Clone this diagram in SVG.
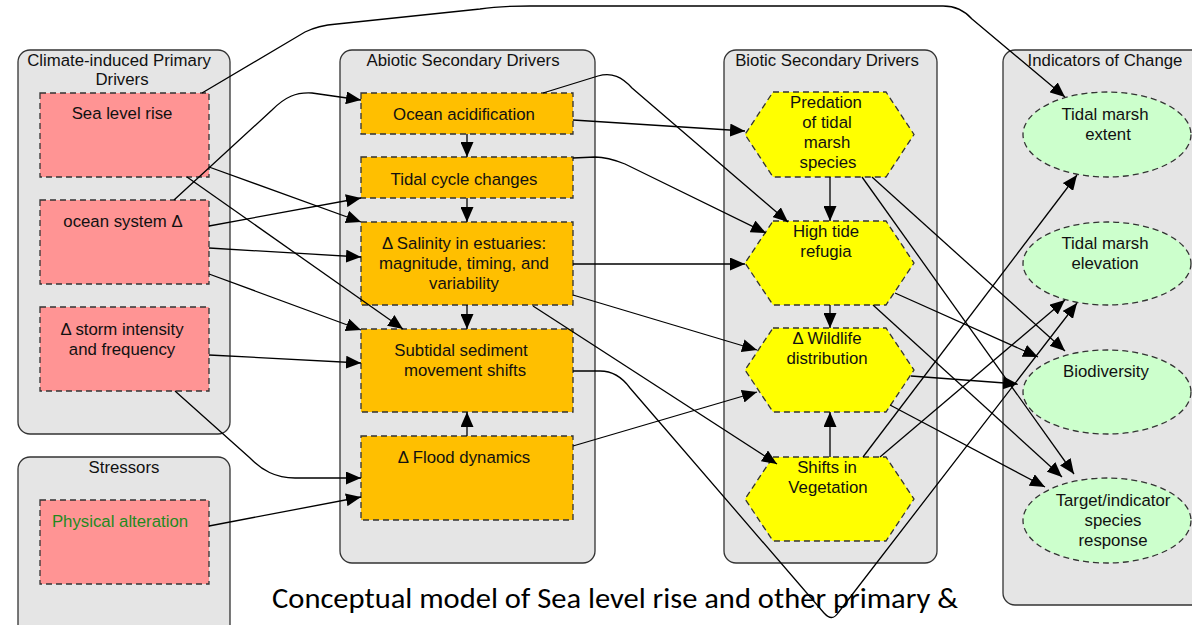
<svg xmlns="http://www.w3.org/2000/svg" width="1192" height="625" viewBox="0 0 1192 625">
<style>
.cont{fill:#e5e5e5;stroke:#333;stroke-width:1.3}
.title{font-family:"Liberation Sans",Arial,sans-serif;font-size:16.8px;fill:#111;text-anchor:middle}
.lbl{font-family:"Liberation Sans",Arial,sans-serif;font-size:16.8px;fill:#111;text-anchor:middle}
.pink{fill:#ff9494;stroke:#333;stroke-width:1.3;stroke-dasharray:6,4}
.orange{fill:#ffbf00;stroke:#333;stroke-width:1.3;stroke-dasharray:6,4}
.yellow{fill:#ffff00;stroke:#333;stroke-width:1.3;stroke-dasharray:6,4}
.green{fill:#ccffcc;stroke:#333;stroke-width:1.3;stroke-dasharray:6,4}
.edge{fill:none;stroke:#000;stroke-width:1.3;marker-end:url(#arr)}
</style>
<defs>
<marker id="arr" viewBox="0 0 15 13" refX="15" refY="6.5" markerWidth="15" markerHeight="13" orient="auto" markerUnits="userSpaceOnUse">
<path d="M0,0 L15,6.5 L0,13 z" fill="#000"/>
</marker>
</defs>
<rect width="1192" height="625" fill="#fff"/>

<g id="containers">
<g id="grp-climate"><rect class="cont" x="18" y="50" width="212" height="384" rx="12"/>
<text class="title" x="119" y="66">Climate-induced Primary</text><text class="title" x="122" y="85">Drivers</text></g>
<g id="grp-stressors"><rect class="cont" x="18" y="457" width="212" height="180" rx="12"/>
<text class="title" x="124" y="473">Stressors</text></g>
<g id="grp-abiotic"><rect class="cont" x="340" y="50" width="255" height="513" rx="12"/>
<text class="title" x="463" y="66">Abiotic Secondary Drivers</text></g>
<g id="grp-biotic"><rect class="cont" x="724" y="50" width="213" height="513" rx="12"/>
<text class="title" x="827" y="66">Biotic Secondary Drivers</text></g>
<g id="grp-indicators"><rect class="cont" x="1003" y="50" width="220" height="555" rx="12"/>
<text class="title" x="1105" y="66">Indicators of Change</text></g>
</g>

<g id="n-slr"><rect class="pink" x="40" y="93" width="169" height="84"/><text class="lbl" x="122" y="119">Sea level rise</text></g>
<g id="n-ocean"><rect class="pink" x="40" y="200" width="169" height="84"/><text class="lbl" x="123" y="227">ocean system Δ</text></g>
<g id="n-storm"><rect class="pink" x="40" y="307" width="169" height="84"/><text class="lbl" x="122" y="335">Δ storm intensity</text><text class="lbl" x="122" y="355">and frequency</text></g>
<g id="n-phys"><rect class="pink" x="40" y="500" width="169" height="84"/><text class="lbl" x="120" y="527" style="fill:#1f8a1f">Physical alteration</text></g>

<g id="n-acid"><rect class="orange" x="361" y="93" width="212" height="41"/><text class="lbl" x="464" y="120">Ocean acidification</text></g>
<g id="n-tidal"><rect class="orange" x="361" y="157" width="212" height="41"/><text class="lbl" x="464" y="185">Tidal cycle changes</text></g>
<g id="n-salin"><rect class="orange" x="361" y="222" width="212" height="83"/><text class="lbl" x="464" y="249">Δ Salinity in estuaries:</text><text class="lbl" x="464" y="269">magnitude, timing, and</text><text class="lbl" x="464" y="289">variability</text></g>
<g id="n-sed"><rect class="orange" x="361" y="329" width="212" height="83"/><text class="lbl" x="461" y="356">Subtidal sediment</text><text class="lbl" x="465" y="376">movement shifts</text></g>
<g id="n-flood"><rect class="orange" x="361" y="436" width="212" height="84"/><text class="lbl" x="464" y="463">Δ Flood dynamics</text></g>

<g id="n-pred"><polygon class="yellow" points="773,92 886,92 914,134.5 886,177 773,177 745,134.5"/><text class="lbl" x="826" y="108">Predation</text><text class="lbl" x="827" y="128">of tidal</text><text class="lbl" x="827" y="148">marsh</text><text class="lbl" x="828" y="168">species</text></g>
<g id="n-high"><polygon class="yellow" points="773,221 886,221 914,263 886,305 773,305 745,263"/><text class="lbl" x="826" y="237">High tide</text><text class="lbl" x="826" y="257">refugia</text></g>
<g id="n-wild"><polygon class="yellow" points="773,328 886,328 914,370 886,412 773,412 745,370"/><text class="lbl" x="827" y="344">Δ Wildlife</text><text class="lbl" x="827" y="364">distribution</text></g>
<g id="n-veg"><polygon class="yellow" points="773,457 886,457 914,499 886,541 773,541 745,499"/><text class="lbl" x="827" y="473">Shifts in</text><text class="lbl" x="828" y="493">Vegetation</text></g>

<g id="n-extent"><ellipse class="green" cx="1107" cy="134.5" rx="84" ry="42.5"/><text class="lbl" x="1105" y="120">Tidal marsh</text><text class="lbl" x="1108" y="140">extent</text></g>
<g id="n-elev"><ellipse class="green" cx="1107" cy="263.5" rx="84" ry="41.5"/><text class="lbl" x="1105" y="249">Tidal marsh</text><text class="lbl" x="1105" y="269">elevation</text></g>
<g id="n-bio"><ellipse class="green" cx="1107" cy="392" rx="84" ry="42"/><text class="lbl" x="1106" y="377">Biodiversity</text></g>
<g id="n-target"><ellipse class="green" cx="1107" cy="520.5" rx="84" ry="42.5"/><text class="lbl" x="1113" y="506">Target/indicator</text><text class="lbl" x="1113" y="526">species</text><text class="lbl" x="1113" y="546">response</text></g>

<text x="272" y="608" font-family="Carlito,'Liberation Sans',Arial,sans-serif" font-size="28" fill="#000" textLength="686" lengthAdjust="spacingAndGlyphs">Conceptual model of Sea level rise and other primary &amp;</text>

<g id="connectors">
<path class="edge" d="M202,93 L305,32 C315,27 325,25 337,24 L480,9 Q500,6 530,6 L943,6 C955,6 964,10 972,19 L1065,97"/>
<path class="edge" d="M174,200 L272,110 C285,97 296,92 312,93 L361,100"/>
<path class="edge" d="M209,167 L361,222"/>
<path class="edge" d="M187,177 L403,329"/>
<path class="edge" d="M209,226 L361,198"/>
<path class="edge" d="M209,248 L361,257"/>
<path class="edge" d="M209,274 L361,330"/>
<path class="edge" d="M209,355 L361,363"/>
<path class="edge" d="M175,391 L250,458 C262,470 275,478 295,478 L361,478"/>
<path class="edge" d="M209,526 L361,497"/>
<path class="edge" d="M467,134 L467,157"/>
<path class="edge" d="M467,198 L467,222"/>
<path class="edge" d="M467,305 L467,329"/>
<path class="edge" d="M467,436 L467,412"/>
<path class="edge" d="M543,93 L598,76 C612,72 622,77 632,88 L788,222"/>
<path class="edge" d="M573,120 L745,131"/>
<path class="edge" d="M573,158 L595,157 C605,157 615,160 625,164 L766,233"/>
<path class="edge" d="M573,264 L745,264"/>
<path class="edge" d="M573,295 L757,350"/>
<path class="edge" d="M533,306 L777,464"/>
<path class="edge" d="M573,371 L600,371 C613,371 622,377 630,388 L824,613 Q832,622 838,613 L1077,303"/>
<path class="edge" d="M573,446 L757,392"/>
<path class="edge" d="M830,177 L830,221"/>
<path class="edge" d="M830,305 L830,328"/>
<path class="edge" d="M830,457 L830,412"/>
<path class="edge" d="M862,177 L1074,474"/>
<path class="edge" d="M872,177 L1065,351"/>
<path class="edge" d="M895,293 L1038,357"/>
<path class="edge" d="M873,305 L1062,477"/>
<path class="edge" d="M911,376 L1018,384"/>
<path class="edge" d="M890,405 L1045,487"/>
<path class="edge" d="M863,457 L1077,175"/>
<path class="edge" d="M880,457 L1065,300"/>
</g>
</svg>
